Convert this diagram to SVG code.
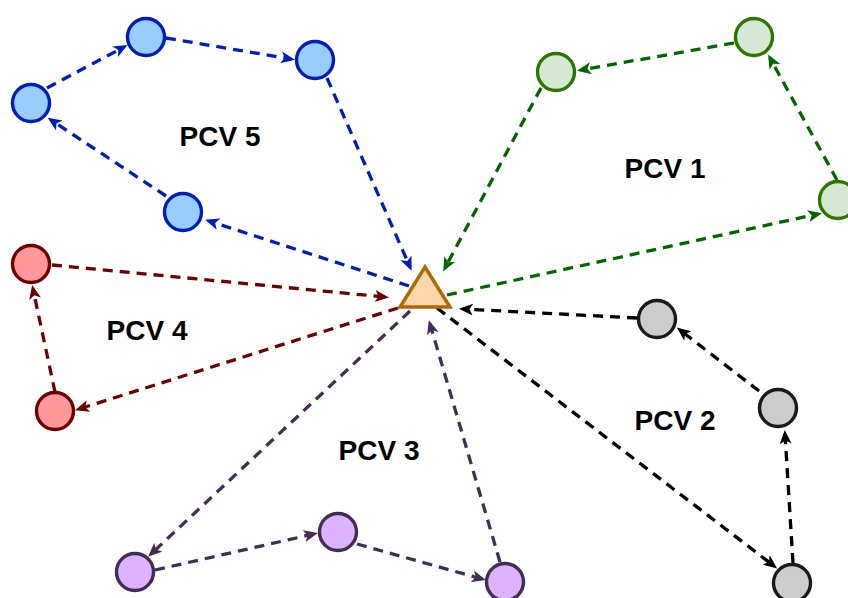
<svg xmlns="http://www.w3.org/2000/svg" width="848" height="598" viewBox="0 0 848 598">
<style>
.e{fill:none;stroke-width:3.3;stroke-dasharray:10 7}
.b{stroke:#001DBC;marker-end:url(#mb)}
.g{stroke:#006600;marker-end:url(#mg)}
.k{stroke:#000000;marker-end:url(#mk)}
.r{stroke:#6F0000;marker-end:url(#mr)}
.p{stroke:#432D57;marker-end:url(#mp)}
circle{stroke-width:3.4}
.nb{fill:#99CCFF;stroke:#001DBC}
.ng{fill:#D5E8D4;stroke:#2D7600}
.nk{fill:#CCCCCC;stroke:#1A1A1A}
.nr{fill:#FF9999;stroke:#6F0000}
.np{fill:#DDB3FF;stroke:#432D57}
text{font-family:"Liberation Sans",Arial,sans-serif;font-weight:bold;font-size:28px;fill:#000;text-anchor:middle}
</style>
<defs>
<marker id="mb" markerUnits="userSpaceOnUse" markerWidth="14" markerHeight="12" viewBox="0 0 14 12" refX="10" refY="6" orient="auto"><path d="M0,0 L14,6 L0,12 L3.5,6 Z" fill="#001DBC"/></marker>
<marker id="mg" markerUnits="userSpaceOnUse" markerWidth="14" markerHeight="12" viewBox="0 0 14 12" refX="10" refY="6" orient="auto"><path d="M0,0 L14,6 L0,12 L3.5,6 Z" fill="#006600"/></marker>
<marker id="mk" markerUnits="userSpaceOnUse" markerWidth="14" markerHeight="12" viewBox="0 0 14 12" refX="10" refY="6" orient="auto"><path d="M0,0 L14,6 L0,12 L3.5,6 Z" fill="#000000"/></marker>
<marker id="mr" markerUnits="userSpaceOnUse" markerWidth="14" markerHeight="12" viewBox="0 0 14 12" refX="10" refY="6" orient="auto"><path d="M0,0 L14,6 L0,12 L3.5,6 Z" fill="#6F0000"/></marker>
<marker id="mp" markerUnits="userSpaceOnUse" markerWidth="14" markerHeight="12" viewBox="0 0 14 12" refX="10" refY="6" orient="auto"><path d="M0,0 L14,6 L0,12 L3.5,6 Z" fill="#432D57"/></marker>
</defs>
<g id="connectors">
<path class="e b" d="M327,78 L410,267"/>
<path class="e b" d="M409,286 L209,221"/>
<path class="e b" d="M166,196 L51,120"/>
<path class="e b" d="M47,88 L124,47"/>
<path class="e b" d="M166,38 L291,59"/>
<path class="e g" d="M541,88 L445,268"/>
<path class="e g" d="M447,295 L818,214"/>
<path class="e g" d="M837,180 L770,58"/>
<path class="e g" d="M734,43 L581,70"/>
<path class="e k" d="M637,318 L463,309"/>
<path class="e k" d="M759,391 L680,330"/>
<path class="e k" d="M793,563 L785,434"/>
<path class="e k" d="M437,308 L774,566"/>
<path class="e r" d="M52,265 L385,297"/>
<path class="e r" d="M398,308 L79,409"/>
<path class="e r" d="M55,392 L33,289"/>
<path class="e p" d="M410,311 L151,554"/>
<path class="e p" d="M155,570 L314,534"/>
<path class="e p" d="M357,544 L482,579"/>
<path class="e p" d="M500,562 L430,324"/>
</g>
<g id="hub"><path d="M425,267 L450,307 L400,307 Z" fill="#FAD7AC" stroke="#B46504" stroke-width="3.4" stroke-linejoin="miter"/></g>
<g id="b1"><circle class="nb" cx="31" cy="103" r="18.5"/></g>
<g id="b2"><circle class="nb" cx="146" cy="37" r="18.5"/></g>
<g id="b3"><circle class="nb" cx="315" cy="60" r="18.5"/></g>
<g id="b4"><circle class="nb" cx="183" cy="212" r="18.5"/></g>
<g id="g1"><circle class="ng" cx="556" cy="72" r="18.5"/></g>
<g id="g2"><circle class="ng" cx="754" cy="37" r="18.5"/></g>
<g id="g3"><circle class="ng" cx="838" cy="200" r="18.5"/></g>
<g id="k1"><circle class="nk" cx="657" cy="319" r="18.5"/></g>
<g id="k2"><circle class="nk" cx="778" cy="408" r="18.5"/></g>
<g id="k3"><circle class="nk" cx="792" cy="583" r="18.5"/></g>
<g id="r1"><circle class="nr" cx="31" cy="264" r="18.5"/></g>
<g id="r2"><circle class="nr" cx="55" cy="411" r="18.5"/></g>
<g id="p1"><circle class="np" cx="135" cy="572" r="18.5"/></g>
<g id="p2"><circle class="np" cx="338" cy="532" r="18.5"/></g>
<g id="p3"><circle class="np" cx="505" cy="582" r="18.5"/></g>
<g id="labels">
<text x="220" y="146">PCV 5</text>
<text x="665" y="178">PCV 1</text>
<text x="147" y="340">PCV 4</text>
<text x="675" y="430">PCV 2</text>
<text x="379" y="460">PCV 3</text>
</g>
</svg>
